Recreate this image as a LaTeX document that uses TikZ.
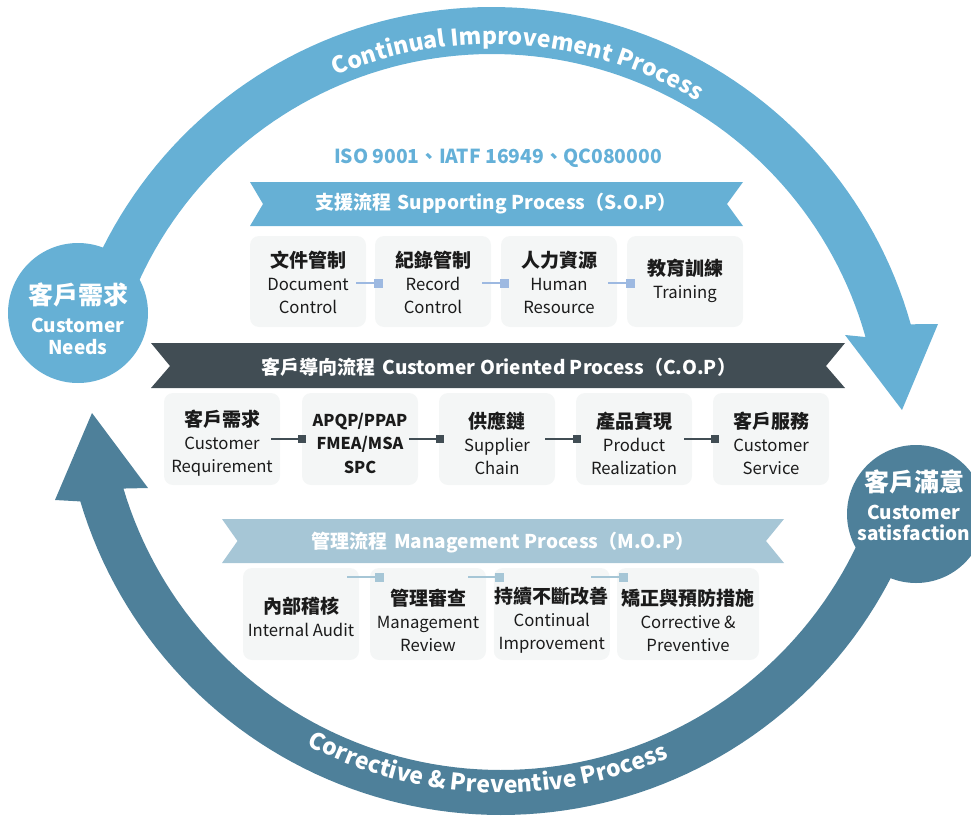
\documentclass[tikz,border=0pt]{standalone}
\usepackage{fontspec}
\setmainfont{Noto Sans CJK TC}
\usetikzlibrary{decorations.text,arrows.meta}
\definecolor{arcA}{HTML}{66B0D5}
\definecolor{arcB}{HTML}{4E809A}
\definecolor{copc}{HTML}{414D54}
\definecolor{mopc}{HTML}{A6C6D6}
\definecolor{sopline}{HTML}{9DB9E1}
\definecolor{boxbg}{HTML}{F4F6F6}
\definecolor{isoc}{HTML}{64B0D8}
\definecolor{txt}{HTML}{1B1B1B}
\newcommand\arcfont{\fontsize{23}{23}\selectfont\bfseries}
\newcommand\cj[1]{{\bfseries\fontsize{19}{23}\selectfont #1}}
\begin{document}
\begin{tikzpicture}[x=1pt,y=-1pt,
  bx/.style={fill=boxbg, rounded corners=9pt, minimum height=91pt, minimum width=116pt, inner sep=0pt},
  lb/.style={align=center, text=txt, font=\fontsize{16.7}{23}\selectfont, inner sep=0pt},
  wt/.style={text=white, inner sep=0pt, align=center},
  rt/.style={text=white, font=\bfseries\fontsize{19}{23}\selectfont, inner sep=0pt},
  sopc/.style={draw=sopline, line width=2pt, -{Square[length=9pt,width=9pt]}},
  copcn/.style={draw=copc, line width=2pt, -{Square[length=8pt,width=8pt]}},
  mopcn/.style={draw=mopc, line width=2pt, -{Square[length=9pt,width=9pt]}}
]
\useasboundingbox (0,0) rectangle (971,816);

% top arrow (continual improvement)
\fill[arcA] plot[domain=160:15.7,samples=90] ({492+435*cos(\x)},{442-435*sin(\x)})
  -- (938,324) -- (902,410) -- (845,335)
  -- plot[domain=15.7:160,samples=90] ({492+388*cos(\x)},{442-388*sin(\x)}) -- cycle;
% bottom arrow (corrective & preventive)
\fill[arcB] plot[domain=-15:-163.4,samples=90] ({501+439*cos(\x)},{376-439*sin(\x)})
  -- (55,500) -- (92,413) -- (148,488)
  -- plot[domain=-163.4:-15,samples=90] ({501+394*cos(\x)},{376-394*sin(\x)}) -- cycle;

% arc texts
\path[decoration={text along path, text align=center, text color=white,
  text={|\arcfont|Continual Improvement Process}}, decorate]
  plot[domain=125:47,samples=120] ({492+398*cos(\x)},{442-398*sin(\x)});
\path[decoration={text along path, text align=center, text color=white,
  text={|\arcfont|Corrective {\&} Preventive Process}}, decorate]
  plot[domain=-134:-50,samples=120] ({501+417*cos(\x)},{376-417*sin(\x)});

% end circles
\node[circle, fill=arcA, minimum size=140pt, inner sep=0pt] (needs) at (78,313) {};
\node[circle, fill=arcB, minimum size=138pt, inner sep=0pt] (satis) at (916,514) {};
\node[wt, font=\bfseries\fontsize{25}{25}\selectfont] (needsA) at (78,295) {客戶需求};
\node[wt, font=\bfseries\fontsize{19}{22}\selectfont] (needsB) at (78,336) {Customer\\Needs};
\node[wt, font=\bfseries\fontsize{25}{25}\selectfont] (satisA) at (914,482) {客戶滿意};
\node[wt, font=\bfseries\fontsize{19}{20.5}\selectfont] (satisB) at (914,523) {Customer\\satisfaction};

% standards
\node[text=isoc, font=\bfseries\fontsize{19.3}{24}\selectfont, inner sep=0pt] (iso) at (498,158) {ISO 9001、IATF 16949、QC080000};

% ribbons
\fill[arcA] (250,182) -- (743,182) -- (727,204) -- (743,226) -- (250,226) -- (263,204) -- cycle;
\node[rt] (sop) at (496,204) {支援流程\hspace{0.35em}Supporting Process（S.O.P）};
\fill[copc] (151,343) -- (845,343) -- (826,366) -- (845,388) -- (151,388) -- (170,366) -- cycle;
\node[rt] (cop) at (499,367) {客戶導向流程\hspace{0.35em}Customer Oriented Process（C.O.P）};
\fill[mopc] (222,519) -- (784,519) -- (766,541) -- (784,563) -- (222,563) -- (237.5,541) -- cycle;
\node[rt] (mop) at (503,543) {管理流程\hspace{0.35em}Management Process（M.O.P）};

% SOP boxes
\node[bx] (s1) at (308,281.5) {};
\node[bx] (s2) at (433,281.5) {};
\node[bx] (s3) at (559,281.5) {};
\node[bx] (s4) at (685,281.5) {};
\draw[sopc] ([shift={(-10,1.5)}]s1.east) -- ([shift={(8,1.5)}]s2.west);
\draw[sopc] ([shift={(-9,1.5)}]s2.east) -- ([shift={(8,1.5)}]s3.west);
\draw[sopc] ([shift={(-9,1.5)}]s3.east) -- ([shift={(8,1.5)}]s4.west);
\node[lb] (s1t) at (308,282) {\cj{文件管制}\\Document\\Control};
\node[lb] (s2t) at (433,282) {\cj{紀錄管制}\\Record\\Control};
\node[lb] (s3t) at (559,282) {\cj{人力資源}\\Human\\Resource};
\node[lb] (s4t) at (685,281) {\cj{教育訓練}\\Training};

% COP boxes
\node[bx, minimum height=92pt] (c1) at (222,439) {};
\node[bx, minimum height=92pt] (c2) at (360,439) {};
\node[bx, minimum height=92pt] (c3) at (497,439) {};
\node[bx, minimum height=92pt] (c4) at (634,439) {};
\node[bx, minimum height=92pt] (c5) at (771,439) {};
\draw[copcn] ([xshift=-9]c1.east) -- ([xshift=4]c2.west);
\draw[copcn] ([xshift=-9]c2.east) -- ([xshift=5]c3.west);
\draw[copcn] ([xshift=-10]c3.east) -- ([xshift=5]c4.west);
\draw[copcn] ([xshift=-8]c4.east) -- ([xshift=6]c5.west);
\node[lb] (c1t) at (222,443) {\cj{客戶需求}\\Customer\\Requirement};
\node[lb, font=\bfseries\fontsize{16.3}{23.5}\selectfont] (c2t) at (360,443) {APQP/PPAP\\FMEA/MSA\\SPC};
\node[lb] (c3t) at (497,443) {\cj{供應鏈}\\Supplier\\Chain};
\node[lb] (c4t) at (634,443) {\cj{產品實現}\\Product\\Realization};
\node[lb] (c5t) at (771,443) {\cj{客戶服務}\\Customer\\Service};

% MOP boxes
\node[bx, minimum height=92pt] (m1) at (301,614) {};
\node[bx, minimum height=92pt] (m2) at (428,614) {};
\node[bx, minimum height=92pt] (m3) at (551.75,614) {};
\node[bx, minimum height=92pt, minimum width=142pt] (m4) at (688,614) {};
\draw[mopcn] ([shift={(-12,-37)}]m1.east) -- ([shift={(14,-37)}]m2.west);
\draw[mopcn] ([shift={(-18,-37)}]m2.east) -- ([shift={(10,-37)}]m3.west);
\draw[mopcn] ([shift={(-18.5,-37)}]m3.east) -- ([shift={(11,-37)}]m4.west);
\node[lb] (m1t) at (301,617) {\cj{內部稽核}\\Internal Audit};
\node[lb] (m2t) at (428,620) {\cj{管理審查}\\Management\\Review};
\node[lb] (m3t) at (551.75,620) {\cj{持續不斷改善}\\Continual\\Improvement};
\node[lb] (m4t) at (688,620) {\cj{矯正與預防措施}\\Corrective \&\\Preventive};
\end{tikzpicture}
\end{document}
